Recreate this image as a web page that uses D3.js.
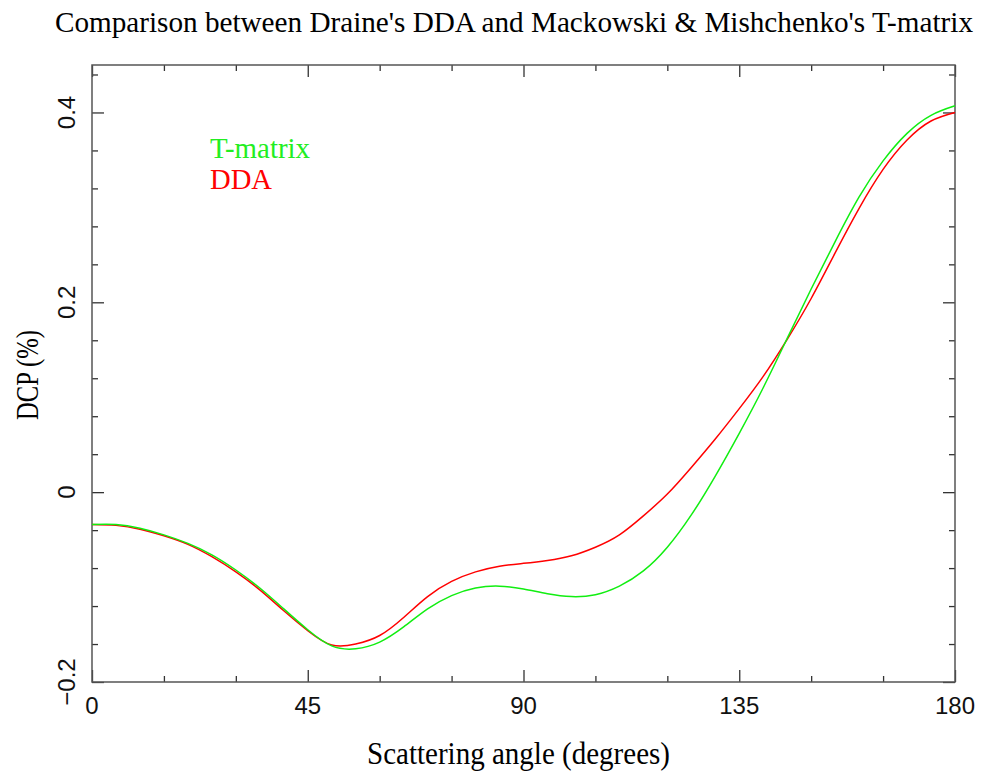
<!DOCTYPE html>
<html lang="en">
<head>
<meta charset="utf-8">
<title>DDA vs T-matrix</title>
<script src="https://cdn.jsdelivr.net/npm/d3@7/dist/d3.min.js"></script>
<style>
  body { margin: 0; background: white; }
  svg { display: block; background: white; }
  .frame { fill: none; stroke: #555; stroke-width: 1.5; }
  .ticks line { stroke: #333; stroke-width: 1.3; }
  .ticks path { display: none; }
  .ticks text { display: none; }
  .num { font-family: "Liberation Sans", Arial, sans-serif; font-size: 24px; fill: #111; }
  .serif { font-family: "Liberation Serif", "Times New Roman", serif; fill: #000; }
</style>
</head>
<body>
<script>
// scattering angle (degrees)
var angles = [0, 5, 10, 15, 20, 25, 30, 35, 40, 45, 50, 55, 60, 65, 70, 75, 80, 85, 90,
              95, 100, 105, 110, 115, 120, 125, 130, 135, 140, 145, 150, 155, 160, 165, 170, 175, 180];

// DCP (%) - Draine's DDA
var ddaValues = [-0.034, -0.035, -0.039, -0.046, -0.055, -0.068, -0.084, -0.103, -0.125, -0.146,
                 -0.161, -0.160, -0.151, -0.132, -0.110, -0.094, -0.084, -0.078, -0.075,
                 -0.072, -0.067, -0.058, -0.045, -0.025, -0.002, 0.026, 0.056, 0.088, 0.122,
                 0.161, 0.204, 0.252, 0.299, 0.340, 0.371, 0.391, 0.400];

// DCP (%) - Mackowski & Mishchenko's T-matrix
var tmatValues = [-0.034, -0.034, -0.038, -0.045, -0.054, -0.066, -0.082, -0.101, -0.123, -0.145,
                  -0.162, -0.165, -0.158, -0.142, -0.123, -0.109, -0.101, -0.099, -0.102,
                  -0.107, -0.110, -0.108, -0.099, -0.083, -0.058, -0.024, 0.017, 0.062, 0.110,
                  0.162, 0.214, 0.264, 0.311, 0.349, 0.378, 0.397, 0.407];

var xMajor = [0, 45, 90, 135, 180];
var xMinor = [15, 30, 60, 75, 105, 120, 150, 165];
var yMajor = [-0.2, 0, 0.2, 0.4];
var yMinor = [-0.16, -0.12, -0.08, -0.04, 0.04, 0.08, 0.12, 0.16, 0.24, 0.28, 0.32, 0.36, 0.44];
var yLabels = ["\u22120.2", "0", "0.2", "0.4"];

var w = 981, h = 774;
var padLeft = 92, padRight = 955, padTop = 65, padBottom = 682;

var svg = d3.select("body").append("svg")
    .attr("width", w)
    .attr("height", h);

var x = d3.scaleLinear().domain([0, 180]).range([padLeft, padRight]);
var y = d3.scaleLinear().domain([-0.2, 0.45]).range([padBottom, padTop]);

// ticks, pointing inwards on all four sides
function addTicks(axis, tx, ty) {
    svg.append("g")
        .attr("class", "ticks")
        .attr("transform", "translate(" + tx + "," + ty + ")")
        .call(axis);
}
addTicks(d3.axisBottom(x).tickValues(xMajor).tickSize(-12), 0, padBottom);
addTicks(d3.axisBottom(x).tickValues(xMinor).tickSize(-6), 0, padBottom);
addTicks(d3.axisTop(x).tickValues(xMajor).tickSize(-12), 0, padTop);
addTicks(d3.axisTop(x).tickValues(xMinor).tickSize(-6), 0, padTop);
addTicks(d3.axisLeft(y).tickValues(yMajor).tickSize(-12), padLeft, 0);
addTicks(d3.axisLeft(y).tickValues(yMinor).tickSize(-6), padLeft, 0);
addTicks(d3.axisRight(y).tickValues(yMajor).tickSize(-12), padRight, 0);
addTicks(d3.axisRight(y).tickValues(yMinor).tickSize(-6), padRight, 0);

svg.append("rect")
    .attr("class", "frame")
    .attr("x", padLeft)
    .attr("y", padTop)
    .attr("width", padRight - padLeft)
    .attr("height", padBottom - padTop);

// tick labels
svg.selectAll(".xlab")
    .data(xMajor)
    .enter()
    .append("text")
    .attr("class", "num")
    .attr("x", function(d) { return x(d); })
    .attr("y", 714)
    .attr("text-anchor", "middle")
    .text(function(d) { return d; });

svg.selectAll(".ylab")
    .data(yMajor)
    .enter()
    .append("text")
    .attr("class", "num")
    .attr("text-anchor", "middle")
    .attr("transform", function(d) { return "translate(75," + y(d) + ") rotate(-90)"; })
    .text(function(d, i) { return yLabels[i]; });

// lines
var line = d3.line()
    .x(function(d) { return x(d[0]); })
    .y(function(d) { return y(d[1]); })
    .curve(d3.curveNatural);

svg.append("path")
    .datum(d3.zip(angles, ddaValues))
    .attr("d", line)
    .attr("fill", "none")
    .attr("stroke", "#ff0000")
    .attr("stroke-width", 1.5);

svg.append("path")
    .datum(d3.zip(angles, tmatValues))
    .attr("d", line)
    .attr("fill", "none")
    .attr("stroke", "#11ee11")
    .attr("stroke-width", 1.5);

// legend
svg.append("text")
    .attr("class", "serif")
    .attr("x", 210).attr("y", 158)
    .attr("font-size", 30)
    .attr("textLength", 100)
    .attr("lengthAdjust", "spacingAndGlyphs")
    .style("fill", "#22ee22")
    .text("T-matrix");

svg.append("text")
    .attr("class", "serif")
    .attr("x", 210).attr("y", 189)
    .attr("font-size", 30)
    .attr("textLength", 62)
    .attr("lengthAdjust", "spacingAndGlyphs")
    .style("fill", "#ff0000")
    .text("DDA");

// titles
svg.append("text")
    .attr("class", "serif")
    .attr("x", 55).attr("y", 32)
    .attr("font-size", 30)
    .attr("textLength", 918)
    .attr("lengthAdjust", "spacingAndGlyphs")
    .text("Comparison between Draine's DDA and Mackowski & Mishchenko's T-matrix");

svg.append("text")
    .attr("class", "serif")
    .attr("x", 367).attr("y", 764)
    .attr("font-size", 31)
    .attr("textLength", 303)
    .attr("lengthAdjust", "spacingAndGlyphs")
    .text("Scattering angle (degrees)");

svg.append("text")
    .attr("class", "serif")
    .attr("font-size", 31)
    .attr("textLength", 90)
    .attr("lengthAdjust", "spacingAndGlyphs")
    .attr("transform", "translate(38,420) rotate(-90)")
    .text("DCP (%)");
</script>
</body>
</html>
